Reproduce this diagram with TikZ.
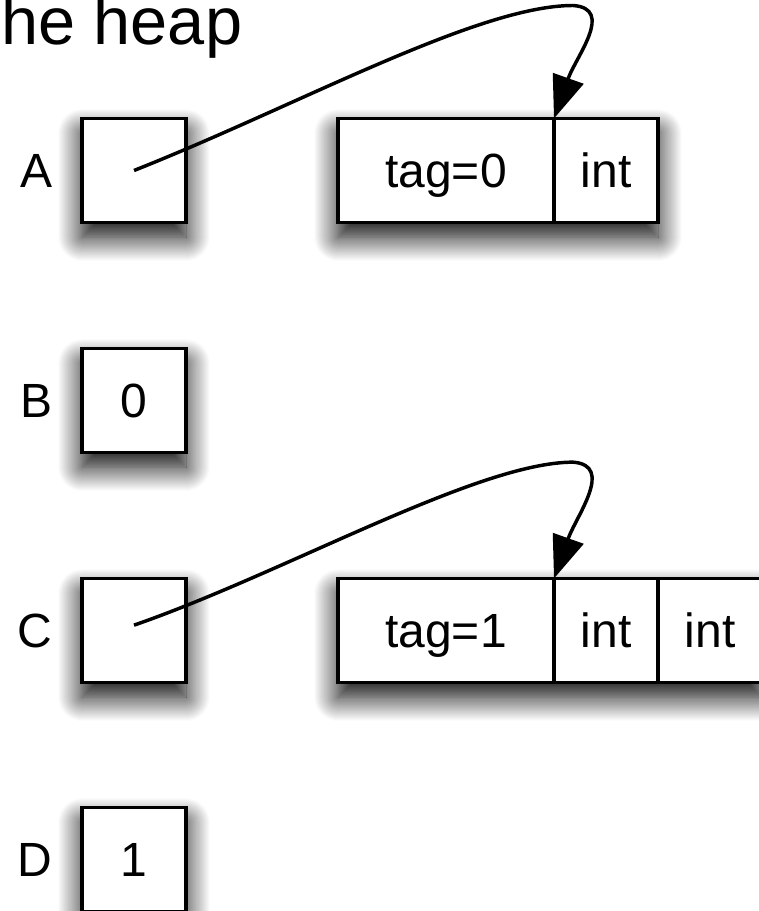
\documentclass[tikz,border=0pt]{standalone}
\usepackage{fontspec}
\setmainfont{Liberation Sans}
\usepackage{tikz}
\usetikzlibrary{arrows.meta,positioning,shadows.blur,backgrounds}
\tikzstyle{shade} = [blur shadow={shadow xshift=0pt, shadow yshift=-11pt, shadow blur radius=18pt, shadow blur steps=24, shadow opacity=100}]
\tikzstyle{cell} = [draw, line width=2.4pt, fill=white, outer sep=0pt, inner sep=0pt, minimum height=78pt, text height=26pt, text depth=0pt, font=\fontsize{36}{40}\selectfont]
\tikzstyle{word} = [cell, shade, minimum width=78pt]
\tikzstyle{tagcell} = [cell, minimum width=162pt]
\tikzstyle{intcell} = [cell, minimum width=78pt]
\tikzstyle{varname} = [font=\fontsize{36}{40}\selectfont, inner sep=0pt, text height=26pt, text depth=0pt]
\tikzstyle{pointer} = [line width=2.6pt, -{Triangle[length=32pt, width=24pt]}]

\begin{document}
\begin{tikzpicture}[x=0.75pt, y=0.75pt]
\path[use as bounding box, clip] (0,0) rectangle (759,911);

% Title
\node[font=\fontsize{50}{56}\selectfont, inner sep=0pt, anchor=base west] (heading) at (1,866) {he heap};

% Variables
\node[word] (boxA) at (134,740.5) {};
\node[word] (boxB) at (134,510.5) {0};
\node[word] (boxC) at (134,280.5) {};
\node[word] (boxD) at (134,51.5) {1};
\node[varname, left=22pt of boxA] (lblA) {A};
\node[varname, left=22pt of boxB] (lblB) {B};
\node[varname, left=22pt of boxC] (lblC) {C};
\node[varname, left=22pt of boxD] (lblD) {D};

% Heap blocks
\node[tagcell] (tagA) at (446,740.5) {tag=0};
\node[intcell, right=0pt of tagA] (intA) {int};
\node[tagcell] (tagC) at (446,280.5) {tag=1};
\node[intcell, right=0pt of tagC] (intC) {int};
\node[intcell, right=0pt of intC] (intCC) {int};
\begin{scope}[on background layer]
\path[shade] (tagA.north west) rectangle (intA.south east);
\path[shade] (tagC.north west) rectangle (intCC.south east);
\end{scope}

% Pointers
\draw[pointer] (boxA.center) .. controls +(164,65) and +(-95,0) .. ++(439,165)
    .. controls +(42,-3) and +(22,62) .. (tagA.north east);
\draw[pointer] ([yshift=4pt]boxC.center) .. controls +(150,52) and +(-95,0) .. ++(439,163)
    .. controls +(42,-3) and +(22,62) .. (tagC.north east);
\end{tikzpicture}
\end{document}
